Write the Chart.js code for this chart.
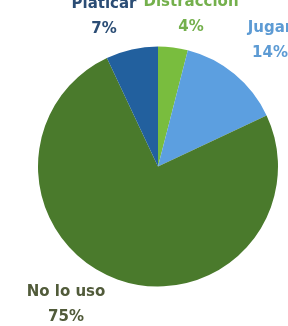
<!DOCTYPE html>
<html>
<head>
<meta charset="utf-8">
<script src="https://cdn.jsdelivr.net/npm/chart.js@4"></script>
<style>
  html, body { margin: 0; padding: 0; background: #fff; }
  #wrap { width: 288px; height: 326px; }
</style>
</head>
<body>
<div id="wrap"><canvas id="Chart" width="288" height="326"></canvas></div>
<script>
var categories = ["Distracción", "Jugar", "No lo uso", "Platicar"];
var percents = [4, 14, 75, 7];
var sliceColors = ["#79bd3e", "#5c9fe0", "#4a7a2c", "#22609e"];
var labelColors = ["#74b04c", "#5d9bd4", "#515b3a", "#2b4d75"];
// where each label sits (canvas px, centre of the two-line text block)
var labelPos = [[191, 15], [270, 41], [66, 305], [104, 17]];

var outerLabels = {
    id: 'outerLabels',
    afterDraw: function(chart) {
        var ctx = chart.ctx;
        ctx.save();
        ctx.textAlign = 'center';
        ctx.textBaseline = 'middle';
        ctx.font = 'bold 15px "DejaVu Sans", sans-serif';
        chart.data.labels.forEach(function(lab, i) {
            var p = labelPos[i];
            ctx.fillStyle = labelColors[i];
            ctx.fillText(lab, p[0], p[1] - 12.5);
            ctx.fillText(chart.data.datasets[0].data[i] + '%', p[0], p[1] + 12.5);
        });
        ctx.restore();
    }
};

var ctx = document.getElementById("Chart");
var newChart = new Chart(ctx, {
    type: 'pie',
    data: {
        labels: categories,
        datasets: [{
            data: percents,
            backgroundColor: sliceColors,
            borderWidth: 0
        }]
    },
    options: {
        responsive: false,
        animation: false,
        layout: { padding: { left: 38, right: 10, top: 46, bottom: 39 } },
        plugins: {
            legend: { display: false },
            tooltip: { enabled: false }
        }
    },
    plugins: [outerLabels]
});
</script>
</body>
</html>
